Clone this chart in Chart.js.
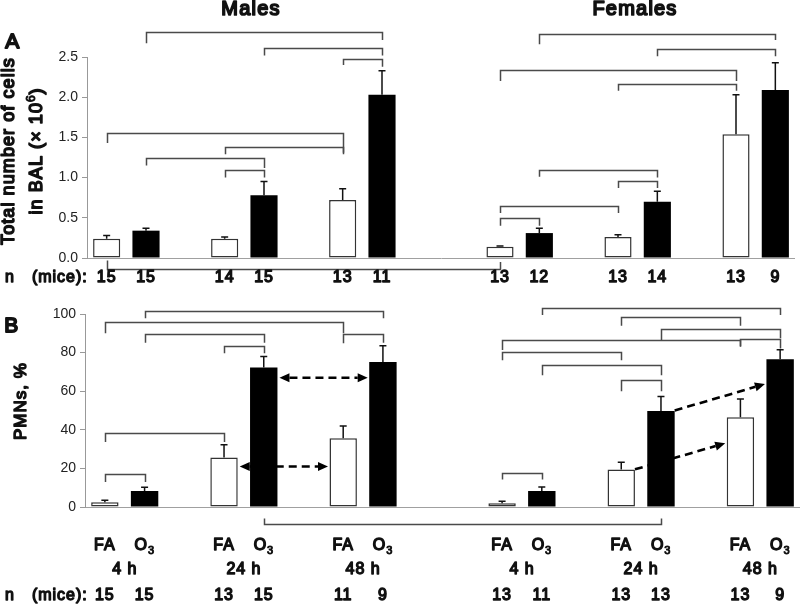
<!DOCTYPE html>
<html>
<head>
<meta charset="utf-8">
<script src="https://cdn.jsdelivr.net/npm/chart.js@4.4.0/dist/chart.umd.min.js"></script>
<style>
  body { margin: 0; background: #fff; }
  #wrap { position: relative; width: 800px; height: 607px; }
  canvas { position: absolute; left: 0; }
  #chartA { top: 0; }
  #chartB { top: 300px; }
</style>
</head>
<body>
<div id="wrap">
  <canvas id="chartA" width="800" height="300"></canvas>
  <canvas id="chartB" width="800" height="307"></canvas>
</div>
<script>
var FONT = "'Liberation Sans', Arial, sans-serif";

var sexes = ['Males', 'Females'];
var timePoints = ['4 h', '24 h', '48 h'];
var exposures = ['FA', 'O3'];

// bar order inside each sex: FA 4h, O3 4h, FA 24h, O3 24h, FA 48h, O3 48h
// A - total cells in BAL (x 10^6), mean and upper error
var cellsMales = [0.24, 0.34, 0.24, 0.78, 0.72, 2.03];
var cellsMalesErr = [0.04, 0.03, 0.02, 0.17, 0.14, 0.30];
var cellsFemales = [0.14, 0.31, 0.26, 0.70, 1.54, 2.09];
var cellsFemalesErr = [0.01, 0.06, 0.03, 0.13, 0.49, 0.34];
var nMiceA = [15, 15, 14, 15, 13, 11, 13, 12, 13, 14, 13, 9];
var ticksA = [0, 0.5, 1.0, 1.5, 2.0, 2.5];

// B - PMNs, %
var pmnMales = [2.4, 8.3, 25.6, 72.3, 35.6, 75.1];
var pmnMalesErr = [1.1, 1.9, 6.6, 5.7, 6.4, 8.5];
var pmnFemales = [2.0, 8.3, 19.4, 49.7, 46.5, 76.6];
var pmnFemalesErr = [1.0, 2.1, 3.8, 7.6, 9.4, 4.9];
var nMiceB = [15, 15, 13, 15, 11, 9, 13, 11, 13, 13, 13, 9];
var ticksB = [0, 20, 40, 60, 80, 100];

// significance brackets: [from bar, to bar, level, left end, right end] (bars 0-11)
var bracketsA = [
  [1, 5, 2.81, 2.67, 2.71], [3, 5, 2.61, 2.52, 2.52], [4, 5, 2.47, 2.40, 2.38],
  [0, 4, 1.56, 1.43, 1.31], [2, 4, 1.38, 1.29, 1.29], [1, 3, 1.24, 1.15, 1.12],
  [2, 3, 1.10, 1.00, 1.00],
  [7, 11, 2.79, 2.66, 2.71], [9, 11, 2.60, 2.51, 2.51], [6, 10, 2.34, 2.20, 2.20],
  [8, 10, 2.17, 2.08, 2.08], [7, 9, 1.09, 1.01, 1.00], [8, 9, 0.96, 0.87, 0.87],
  [6, 8, 0.65, 0.56, 0.56], [6, 7, 0.50, 0.40, 0.40],
  [0, 6, -0.14, -0.03, -0.05]
];
var bracketsB = [
  [1, 5, 101.7, 97.8, 97.8], [0, 4, 95.7, 90.0, 90.0], [1, 3, 89.6, 85.1, 85.1],
  [4, 5, 89.6, 84.8, 85.1], [2, 3, 83.6, 79.6, 79.6], [0, 2, 38.4, 33.7, 33.7],
  [0, 1, 17.3, 13.0, 13.0],
  [7, 11, 103.0, 99.5, 99.5], [8, 10, 98.3, 93.9, 93.9], [9, 11, 92.2, 86.5, 87.4],
  [6, 10, 86.5, 81.3, 83.0], [10, 11, 86.8, 83.3, 82.1], [6, 8, 80.4, 76.1, 76.1],
  [7, 9, 73.5, 68.3, 68.3], [8, 9, 65.7, 60.0, 60.0], [6, 7, 17.8, 14.2, 14.2],
  [3, 9, -9.0, -6.0, -6.0]
];
// dashed arrows: [from bar, value, to bar, value, double headed]
var arrowsB = [[3, 67, 5, 67, true], [2, 21, 4, 21, true], [9, 50, 11, 63.7, false], [8, 19.5, 10, 33, false]];

// category slots: pairs per time point, one blank between time points, two between sexes
var labels = [];
var slotOfBar = [];
sexes.forEach(function (sex, s) {
  if (s > 0) { labels.push(''); labels.push(''); }
  timePoints.forEach(function (tp, t) {
    if (t > 0) labels.push('');
    exposures.forEach(function (ex) {
      slotOfBar.push(labels.length);
      labels.push(sex + ' ' + ex + ' ' + tp);
    });
  });
});

function toSlots(vals, fill) {
  var out = labels.map(function () { return fill; });
  slotOfBar.forEach(function (sl, i) { out[sl] = vals[i]; });
  return out;
}
var isO3 = slotOfBar.map(function (sl, i) { return i % 2 === 1; });
var barFill = toSlots(isO3.map(function (o) { return o ? '#000' : '#fff'; }), '#fff');
var barLine = toSlots(isO3.map(function (o) { return o ? '#000' : '#333'; }), '#000');
var barLineW = toSlots(isO3.map(function (o) { return o ? 0 : 1.5; }), 0);

// no bold face installed for Liberation Sans here, so thicken the regular one
function boldText(ctx, s, x, y, size) {
  ctx.lineWidth = size * 0.085;
  ctx.lineJoin = 'round';
  ctx.strokeStyle = ctx.fillStyle;
  ctx.fillText(s, x, y);
  ctx.strokeText(s, x, y);
}

function txt(ctx, s, x, y, size, opt) {
  opt = opt || {};
  ctx.save();
  ctx.font = size + 'px ' + FONT;
  ctx.letterSpacing = (size * 0.06).toFixed(2) + 'px';
  ctx.fillStyle = '#111';
  ctx.textAlign = opt.align || 'center';
  ctx.textBaseline = 'middle';
  ctx.translate(x, y);
  if (opt.rot) ctx.rotate(opt.rot);
  boldText(ctx, s, 0, 0, size);
  ctx.restore();
}

// parts: [text, size factor, vertical shift factor]
function richTxt(ctx, parts, x, y, size, rot) {
  ctx.save();
  ctx.fillStyle = '#111';
  ctx.textBaseline = 'middle';
  ctx.textAlign = 'left';
  ctx.translate(x, y);
  if (rot) ctx.rotate(rot);
  var total = 0;
  parts.forEach(function (p) {
    p.size = Math.round(size * p[1]);
    ctx.font = p.size + 'px ' + FONT;
    ctx.letterSpacing = (p.size * 0.06).toFixed(2) + 'px';
    p.w = ctx.measureText(p[0]).width;
    total += p.w;
  });
  var cx = -total / 2;
  parts.forEach(function (p) {
    ctx.font = p.size + 'px ' + FONT;
    ctx.letterSpacing = (p.size * 0.06).toFixed(2) + 'px';
    boldText(ctx, p[0], cx, p[2] * size, p.size);
    cx += p.w;
  });
  ctx.restore();
}

function dashedArrow(ctx, x1, y1, x2, y2, both) {
  var ang = Math.atan2(y2 - y1, x2 - x1), hl = 10, hw = 4.5;
  var c = Math.cos(ang), s = Math.sin(ang);
  ctx.save();
  ctx.strokeStyle = '#000';
  ctx.fillStyle = '#000';
  ctx.lineWidth = 2.6;
  ctx.setLineDash([8, 5]);
  ctx.beginPath();
  ctx.moveTo(both ? x1 + hl * c : x1, both ? y1 + hl * s : y1);
  ctx.lineTo(x2 - hl * c, y2 - hl * s);
  ctx.stroke();
  ctx.setLineDash([]);
  function head(x, y, cc, ss) {
    ctx.beginPath();
    ctx.moveTo(x, y);
    ctx.lineTo(x - hl * cc - hw * ss, y - hl * ss + hw * cc);
    ctx.lineTo(x - hl * cc + hw * ss, y - hl * ss - hw * cc);
    ctx.closePath();
    ctx.fill();
  }
  head(x2, y2, c, s);
  if (both) head(x1, y1, -c, -s);
  ctx.restore();
}

function makeDecor(cfg) {
  return {
    id: 'decor',
    afterDatasetsDraw: function (chart) {
      var ctx = chart.ctx, xs = chart.scales.x, ys = chart.scales.y;
      var meta = chart.getDatasetMeta(0);

      // error bars (upper only)
      ctx.save();
      ctx.strokeStyle = '#111';
      ctx.lineWidth = 1.5;
      slotOfBar.forEach(function (sl, i) {
        var bar = meta.data[sl];
        var top = ys.getPixelForValue(cfg.values[i] + cfg.errors[i]);
        ctx.beginPath();
        ctx.moveTo(bar.x, bar.y);
        ctx.lineTo(bar.x, top);
        ctx.moveTo(bar.x - 3.5, top);
        ctx.lineTo(bar.x + 3.5, top);
        ctx.stroke();
      });
      ctx.restore();

      // brackets
      ctx.save();
      ctx.strokeStyle = '#4a4a4a';
      ctx.lineWidth = 1.5;
      cfg.brackets.forEach(function (b) {
        var x1 = Math.round(xs.getPixelForValue(slotOfBar[b[0]])) + 0.5;
        var x2 = Math.round(xs.getPixelForValue(slotOfBar[b[1]])) + 0.5;
        var yl = Math.round(ys.getPixelForValue(b[2])) + 0.5;
        ctx.beginPath();
        ctx.moveTo(x1, ys.getPixelForValue(b[3]));
        ctx.lineTo(x1, yl);
        ctx.lineTo(x2, yl);
        ctx.lineTo(x2, ys.getPixelForValue(b[4]));
        ctx.stroke();
      });
      ctx.restore();

      // arrows
      (cfg.arrows || []).forEach(function (a) {
        var b1 = meta.data[slotOfBar[a[0]]], b2 = meta.data[slotOfBar[a[2]]];
        var gap = a[4] ? 2 : 0;
        dashedArrow(ctx, b1.x + b1.width / 2 + gap, ys.getPixelForValue(a[1]),
          b2.x - b2.width / 2 - 1.5, ys.getPixelForValue(a[3]), a[4]);
      });

      cfg.texts(ctx, xs, meta);
    }
  };
}

function makePanel(id, cfg) {
  return new Chart(document.getElementById(id), {
    type: 'bar',
    data: {
      labels: labels,
      datasets: [{
        data: toSlots(cfg.values, null),
        backgroundColor: barFill,
        borderColor: barLine,
        borderWidth: barLineW,
        borderSkipped: false,
        barPercentage: 0.69,
        categoryPercentage: 1
      }]
    },
    options: {
      responsive: false,
      animation: false,
      layout: { padding: cfg.padding },
      plugins: { legend: { display: false }, tooltip: { enabled: false } },
      scales: {
        x: { display: false },
        y: {
          min: cfg.ticks[0],
          max: cfg.ticks[cfg.ticks.length - 1],
          afterBuildTicks: function (s) { s.ticks = cfg.ticks.map(function (v) { return { value: v }; }); },
          afterFit: function (s) { s.width = cfg.axisX; },
          ticks: {
            color: '#222',
            padding: 4,
            font: { family: FONT, size: 14 },
            callback: cfg.fmt
          },
          grid: {
            drawOnChartArea: true,
            color: function (c) { return c.tick && c.tick.value === 0 ? '#a0a0a0' : 'rgba(0,0,0,0)'; },
            tickColor: '#999',
            tickLength: 5
          },
          border: { display: true, color: '#999', width: 1 }
        }
      }
    },
    plugins: [makeDecor(cfg)]
  });
}

makePanel('chartA', {
  values: cellsMales.concat(cellsFemales),
  errors: cellsMalesErr.concat(cellsFemalesErr),
  brackets: bracketsA,
  ticks: ticksA,
  fmt: function (v) { return Number(v).toFixed(1); },
  axisX: 87,
  padding: { top: 57, right: 5, bottom: 42, left: 0 },
  texts: function (ctx, xs, meta) {
    txt(ctx, 'A', 13, 42, 21);
    txt(ctx, sexes[0], 251, 9, 20);
    txt(ctx, sexes[1], 635, 9, 20);
    txt(ctx, 'Total number of cells', 9.5, 151, 18, { rot: -Math.PI / 2 });
    richTxt(ctx, [['in BAL (\u00d7 10', 1, 0], ['6', 0.65, -0.3], [')', 1, 0]], 37, 151, 18, -Math.PI / 2);
    txt(ctx, 'n', 5, 278, 16, { align: 'left' });
    txt(ctx, '(mice):', 32, 278, 16, { align: 'left' });
    slotOfBar.forEach(function (sl, i) {
      txt(ctx, String(nMiceA[i]), xs.getPixelForValue(sl), 278, 16);
    });
  }
});

makePanel('chartB', {
  values: pmnMales.concat(pmnFemales),
  errors: pmnMalesErr.concat(pmnFemalesErr),
  brackets: bracketsB,
  arrows: arrowsB,
  ticks: ticksB,
  fmt: function (v) { return String(v); },
  axisX: 85,
  padding: { top: 14, right: 0, bottom: 100, left: 0 },
  texts: function (ctx, xs, meta) {
    txt(ctx, 'B', 12, 26, 21);
    txt(ctx, 'PMNs, %', 21, 101, 17, { rot: -Math.PI / 2 });
    slotOfBar.forEach(function (sl, i) {
      var x = xs.getPixelForValue(sl);
      if (i % 2 === 0) {
        txt(ctx, exposures[0], x, 246, 16);
        var xn = xs.getPixelForValue(slotOfBar[i + 1]);
        txt(ctx, timePoints[(i / 2) % 3], (x + xn) / 2, 270, 16);
      } else {
        richTxt(ctx, [['O', 1, 0], ['3', 0.68, 0.28]], x, 246, 16);
      }
      txt(ctx, String(nMiceB[i]), x, 296, 16);
    });
    txt(ctx, 'n', 5, 296, 16, { align: 'left' });
    txt(ctx, '(mice):', 32, 296, 16, { align: 'left' });
  }
});
</script>
</body>
</html>
